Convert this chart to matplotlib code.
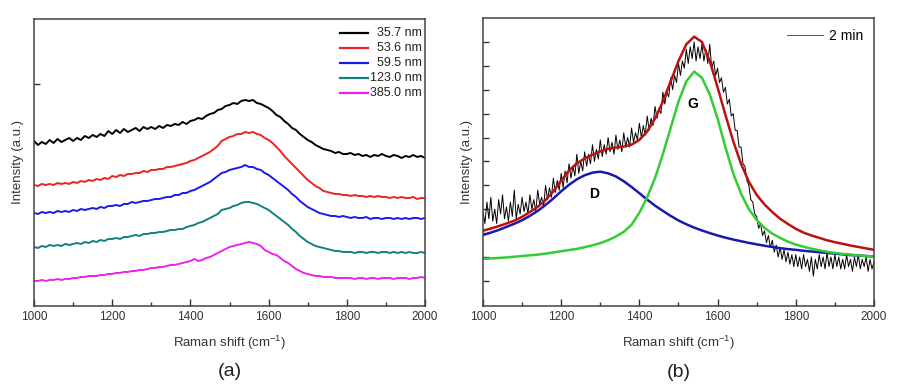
import numpy as np
import matplotlib
matplotlib.use("Agg")
import matplotlib.pyplot as plt

plt.rcParams['font.family'] = ['Liberation Sans', 'DejaVu Sans']
plt.rcParams['mathtext.default'] = 'regular'

# ---------- panel (a): Raman spectra for several thicknesses ----------
shift_a = np.arange(1000, 2001, 10)

labels_a = ["35.7 nm", "53.6 nm", "59.5 nm", "123.0 nm", "385.0 nm"]
colors_a = ["#000000", "#ee2222", "#1a1aee", "#138080", "#ee22ee"]

spec_357 = [165, 161, 164, 162, 166, 163, 167, 164, 166, 168, 165,
            168, 166, 170, 168, 171, 169, 172, 170, 175, 172,
            176, 173, 177, 174, 176, 178, 175, 179, 177, 179,
            177, 180, 178, 181, 180, 182, 181, 184, 182, 185,
            186, 188, 187, 190, 192, 193, 196, 197, 200, 201,
            203, 202, 205, 206, 205, 206, 203, 202, 200, 198,
            195, 191, 189, 185, 182, 178, 176, 172, 169, 166,
            164, 161, 159, 157, 156, 155, 153, 154, 152, 152,
            153, 151, 152, 150, 151, 149, 151, 150, 152, 150,
            149, 151, 150, 148, 150, 149, 151, 149, 150, 148]
spec_536 = [121, 120, 122, 121, 122, 121, 123, 122, 123, 122, 124,
            123, 125, 124, 126, 125, 127, 126, 128, 127, 130,
            129, 131, 130, 132, 132, 133, 133, 135, 134, 136,
            136, 137, 137, 139, 139, 140, 141, 142, 143, 145,
            146, 148, 150, 152, 154, 157, 160, 165, 167, 169,
            170, 172, 172, 174, 173, 174, 172, 171, 168, 166,
            163, 159, 155, 150, 146, 142, 138, 134, 130, 126,
            123, 120, 118, 115, 114, 113, 112, 112, 111, 111,
            110, 111, 110, 110, 109, 110, 109, 110, 109, 109,
            108, 109, 108, 109, 108, 108, 109, 107, 108, 108]
spec_595 = [93, 92, 94, 93, 94, 93, 95, 94, 95, 94, 96,
            95, 97, 96, 97, 98, 97, 99, 98, 100, 100,
            101, 100, 102, 102, 104, 103, 104, 105, 105, 106,
            107, 107, 108, 109, 109, 111, 111, 113, 113, 115,
            116, 118, 120, 122, 124, 127, 130, 133, 134, 136,
            137, 138, 139, 141, 139, 139, 137, 136, 133, 131,
            128, 125, 122, 119, 116, 112, 109, 105, 102, 99,
            97, 95, 93, 92, 91, 90, 90, 89, 90, 89,
            88, 89, 88, 88, 89, 87, 88, 88, 87, 88,
            88, 87, 88, 87, 88, 87, 88, 88, 87, 88]
spec_1230 = [59, 58, 60, 59, 61, 60, 61, 60, 62, 61, 62,
             63, 62, 64, 63, 65, 64, 66, 65, 67, 67,
             68, 67, 69, 69, 70, 71, 70, 72, 72, 73,
             73, 74, 74, 75, 76, 76, 77, 77, 79, 80,
             81, 83, 84, 86, 88, 90, 92, 96, 97, 98,
             100, 101, 103, 104, 104, 103, 102, 100, 98, 96,
             93, 90, 87, 84, 81, 77, 74, 70, 67, 64,
             62, 60, 59, 58, 57, 56, 55, 55, 54, 54,
             54, 53, 54, 54, 53, 54, 54, 53, 54, 54,
             53, 54, 53, 54, 53, 54, 53, 53, 54, 53]
spec_3850 = [25, 25, 26, 25, 26, 26, 27, 26, 27, 27, 28,
             28, 29, 29, 30, 30, 30, 31, 31, 32, 32,
             33, 33, 34, 34, 35, 35, 36, 36, 37, 38,
             38, 39, 39, 40, 41, 41, 42, 43, 44, 45,
             47, 45, 46, 48, 49, 51, 53, 55, 57, 59,
             60, 61, 62, 63, 64, 63, 62, 60, 56, 54,
             52, 51, 48, 45, 43, 40, 37, 35, 33, 32,
             31, 30, 30, 29, 29, 29, 28, 28, 28, 28,
             28, 27, 28, 28, 27, 28, 28, 27, 28, 28,
             28, 27, 28, 28, 28, 27, 28, 28, 29, 28]
spectra_a = [spec_357, spec_536, spec_595, spec_1230, spec_3850]

# ---------- panel (b): measured spectrum (2 min) and D/G peak fit ----------
shift_b = np.arange(1000, 2001, 5)
measured = [2.9, 2.4, 3.3, 2.6, 3.5, 2.5, 3.0, 2.4, 3.4, 2.8, 3.6, 2.6, 3.1, 2.5, 3.3, 2.7, 3.8, 2.6, 3.2, 2.8,
            3.5, 2.9, 3.3, 2.8, 3.6, 3.0, 3.4, 2.9, 3.8, 3.2, 3.5, 3.1, 4.0, 3.4, 3.9, 3.5, 4.3, 3.7, 4.2, 3.8,
            4.5, 3.9, 4.6, 4.1, 4.9, 4.3, 4.8, 4.4, 5.3, 4.5, 5.0, 4.6, 5.4, 4.8, 5.3, 4.9, 5.7, 5.0, 5.5, 5.1,
            5.9, 5.2, 5.7, 5.3, 6.0, 5.4, 5.8, 5.3, 6.1, 5.5, 5.9, 5.4, 6.2, 5.6, 6.0, 5.6, 6.4, 5.8, 6.2, 5.9,
            6.6, 6.0, 6.5, 6.1, 6.9, 6.3, 6.8, 6.5, 7.3, 6.8, 7.2, 7.0, 7.9, 7.4, 7.9, 7.7, 8.5, 8.0, 8.6, 8.3,
            9.1, 8.6, 9.2, 8.9, 9.7, 9.1, 9.8, 9.3, 10.0, 9.2, 9.8, 9.3, 9.9, 9.2, 9.7, 9.1, 9.9, 8.9, 9.2, 8.6,
            8.9, 8.3, 8.5, 7.9, 8.1, 7.4, 7.6, 6.9, 7.0, 6.3, 6.3, 5.6, 5.6, 4.9, 4.8, 4.2, 4.0, 3.4, 3.3, 2.8,
            2.7, 2.2, 2.4, 1.9, 2.1, 1.6, 1.9, 1.4, 1.7, 1.2, 1.5, 1.0, 1.4, 0.9, 1.3, 0.8, 1.2, 0.7, 1.1, 0.6,
            1.1, 0.6, 1.0, 0.5, 1.1, 0.6, 0.9, 0.4, 1.0, 0.2, 0.9, 0.5, 1.1, 0.6, 1.0, 0.5, 1.2, 0.6, 1.0, 0.5,
            1.1, 0.6, 1.0, 0.5, 0.9, 0.5, 1.1, 0.6, 0.9, 0.4, 1.0, 0.6, 1.1, 0.5, 0.9, 0.6, 1.0, 0.4, 0.9, 0.5,
            0.8]

shift_fit = np.arange(1000, 2001, 20)
fit_sum = [2.10, 2.19, 2.29, 2.40, 2.52, 2.68, 2.88, 3.10, 3.38, 3.75,
           4.20, 4.62, 4.92, 5.12, 5.28, 5.42, 5.52, 5.58, 5.62, 5.70,
           5.90, 6.25, 6.80, 7.50, 8.35, 9.20, 9.90, 10.22, 10.00, 9.20,
           8.10, 6.95, 5.85, 4.90, 4.15, 3.60, 3.20, 2.88, 2.60, 2.38,
           2.18, 2.02, 1.90, 1.80, 1.70, 1.62, 1.55, 1.48, 1.42, 1.36, 1.30]
peak_d = [1.92, 2.02, 2.13, 2.26, 2.39, 2.54, 2.72, 2.93, 3.18, 3.45,
          3.75, 4.02, 4.25, 4.42, 4.53, 4.57, 4.50, 4.37, 4.17, 3.93,
          3.67, 3.40, 3.15, 2.93, 2.72, 2.53, 2.37, 2.23, 2.11, 2.00,
          1.90, 1.81, 1.73, 1.66, 1.59, 1.53, 1.47, 1.42, 1.37, 1.33,
          1.30, 1.26, 1.23, 1.20, 1.17, 1.14, 1.11, 1.08, 1.06, 1.04, 1.02]
peak_g = [0.92, 0.94, 0.96, 0.98, 1.01, 1.04, 1.07, 1.10, 1.14, 1.19,
          1.24, 1.29, 1.34, 1.41, 1.49, 1.58, 1.70, 1.86, 2.05, 2.35,
          2.85, 3.50, 4.30, 5.30, 6.40, 7.50, 8.35, 8.76, 8.50, 7.80,
          6.80, 5.60, 4.50, 3.65, 3.00, 2.55, 2.22, 1.98, 1.80, 1.64,
          1.52, 1.43, 1.35, 1.28, 1.22, 1.17, 1.13, 1.10, 1.07, 1.04, 1.02]

xticks = [1000, 1200, 1400, 1600, 1800, 2000]

fig = plt.figure(figsize=(9.05, 3.86), dpi=100)
ax1 = fig.add_axes([0.0376, 0.2073, 0.432, 0.7435])
ax2 = fig.add_axes([0.5337, 0.2073, 0.432, 0.746])

# panel (a)
for y, c in zip(spectra_a, colors_a):
    ax1.plot(shift_a, y, color=c, lw=1.4)
ax1.set_xlim(1000, 2000)
ax1.set_ylim(0, 287)
ax1.set_yticks([222])
ax1.set_yticklabels([])

# legend with right-aligned labels, as in the original
leg_y = [0.951, 0.899, 0.847, 0.794, 0.742]
for yy, c, lab in zip(leg_y, colors_a, labels_a):
    ax1.plot([0.783, 0.854], [yy, yy], color=c, lw=1.6, transform=ax1.transAxes)
    ax1.text(0.992, yy, lab, transform=ax1.transAxes, ha='right', va='center',
             fontsize=9, color='#222222')

# panel (b)
ax2.plot(shift_b, measured, color='black', lw=0.7, label='2 min')
ax2.plot(shift_fit, peak_d, color='#1a1aaa', lw=1.8)
ax2.plot(shift_fit, peak_g, color='#33cc33', lw=1.8)
ax2.plot(shift_fit, fit_sum, color='#bb1111', lw=1.8)
ax2.text(1284, 3.64, 'D', fontsize=10, fontweight='bold', ha='center', va='center')
ax2.text(1537, 7.41, 'G', fontsize=10, fontweight='bold', ha='center', va='center')
ax2.set_xlim(1000, 2000)
ax2.set_ylim(-1.05, 11.0)
ax2.set_yticks(range(0, 11))
ax2.set_yticklabels([])
l2 = ax2.legend(loc='upper right', frameon=False, fontsize=10,
                handlelength=2.6, handletextpad=0.4, borderaxespad=0.4)
for line in l2.get_lines():
    line.set_color('#555555')

for ax, tag in [(ax1, '(a)'), (ax2, '(b)')]:
    ax.set_xticks(xticks)
    ax.set_xticks(range(1100, 2000, 200), minor=True)
    ax.tick_params(axis='both', which='both', direction='in', labelsize=8.5,
                   colors='#333333', length=4, width=1)
    ax.tick_params(axis='x', which='major', length=5)
    ax.tick_params(axis='x', which='minor', length=3)
    ax.set_xlabel('Raman shift (cm$^{-1}$)', fontsize=9.5, color='#333333', labelpad=8)
    ax.set_ylabel('Intensity (a.u.)', fontsize=9.5, color='#333333', labelpad=4)
    for s in ax.spines.values():
        s.set_color('#444444')
        s.set_linewidth(1.1)
    ax.text(0.5, -0.23, tag, transform=ax.transAxes, ha='center', va='center',
            fontsize=14, color='#222222')

fig.savefig('out.png', dpi=100)
